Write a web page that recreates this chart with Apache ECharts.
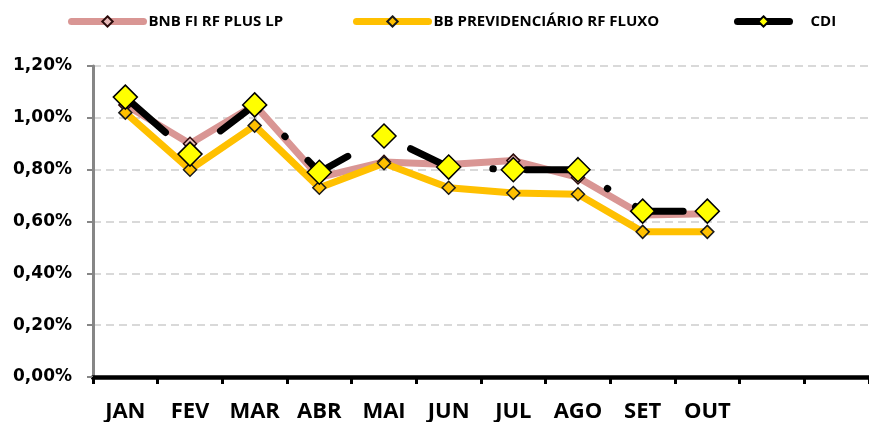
<!DOCTYPE html>
<html>
<head>
<meta charset="utf-8">
<script src="https://cdn.jsdelivr.net/npm/echarts@6/dist/echarts.min.js"></script>
<style>
html,body{margin:0;padding:0;background:#fff;}
#chart{width:869px;height:422px;}
</style>
</head>
<body>
<div id="chart"></div>
<script>
var categories = ['JAN','FEV','MAR','ABR','MAI','JUN','JUL','AGO','SET','OUT','',''];
var bnbValues = [1.05, 0.90, 1.05, 0.77, 0.83, 0.82, 0.835, 0.77, 0.625, 0.63];
var bbValues  = [1.02, 0.80, 0.97, 0.73, 0.825, 0.73, 0.71, 0.705, 0.56, 0.56];
var cdiValues = [1.08, 0.86, 1.05, 0.79, 0.93, 0.81, 0.80, 0.80, 0.64, 0.64];
var seriesNames = ['BNB FI RF PLUS LP', 'BB PREVIDENCIÁRIO RF FLUXO', 'CDI'];
var yTicks = [0, 0.2, 0.4, 0.6, 0.8, 1.0, 1.2];

var chart = echarts.init(document.getElementById('chart'), null, {renderer: 'canvas'});

var legendText = {fontFamily: 'Open Sans', fontWeight: 'bold', fontSize: 15, color: '#000'};

function legendFor(name, left, width, pad) {
  return {
    data: [name],
    left: left,
    top: 14,
    padding: 0,
    itemWidth: width,
    itemHeight: 13,
    selectedMode: false,
    lineStyle: {width: 7, type: 'solid', cap: 'round'},
    textStyle: Object.assign({padding: [0, 0, 0, pad]}, legendText)
  };
}

var option = {
  backgroundColor: '#fff',
  animation: false,
  legend: [
    legendFor(seriesNames[0], 68, 72, 0),
    legendFor(seriesNames[1], 353, 72, 0),
    legendFor(seriesNames[2], 734, 52, 16)
  ],
  grid: {left: 93, right: 0, top: 66, bottom: 45, containLabel: false, outerBoundsMode: 'none'},
  xAxis: {
    type: 'category',
    data: categories,
    boundaryGap: true,
    axisLine: {show: true, lineStyle: {color: '#000', width: 4.5}},
    axisTick: {show: true, alignWithLabel: false, interval: 0, length: 7, lineStyle: {color: '#000', width: 3}},
    axisLabel: {interval: 0, margin: 24, fontFamily: 'Open Sans', fontWeight: 'bold', fontSize: 22, color: '#000'},
    splitLine: {show: false}
  },
  yAxis: {
    type: 'value',
    min: yTicks[0],
    max: yTicks[yTicks.length - 1],
    interval: 0.2,
    axisLine: {show: true, lineStyle: {color: '#868686', width: 3}},
    axisTick: {show: true, length: 6, lineStyle: {color: '#868686', width: 2}},
    axisLabel: {
      margin: 21,
      fontFamily: 'DejaVu Sans', fontWeight: 'bold', fontSize: 17, color: '#000',
      formatter: function (v) { return v.toFixed(2).replace('.', ',') + '%'; }
    },
    splitLine: {show: true, lineStyle: {color: '#d9d9d9', width: 2, type: [8, 5]}}
  },
  series: [
    {
      name: seriesNames[0], type: 'line', data: bnbValues,
      symbol: 'diamond', symbolSize: 13,
      lineStyle: {color: '#D99694', width: 7},
      itemStyle: {color: '#E6B9B8', borderColor: '#2b0a0a', borderWidth: 1.5},
      z: 2
    },
    {
      name: seriesNames[1], type: 'line', data: bbValues,
      symbol: 'diamond', symbolSize: 13,
      lineStyle: {color: '#FFC000', width: 7},
      itemStyle: {color: '#FFC000', borderColor: '#1a1a1a', borderWidth: 1.5},
      z: 3
    },
    {
      name: seriesNames[2], type: 'line', data: cdiValues,
      symbol: 'diamond', symbolSize: 24,
      lineStyle: {color: '#000', width: 7, type: [49, 37.5, 0.5, 33], dashOffset: 115.5, cap: 'round'},
      itemStyle: {color: '#FFFF00', borderColor: '#000', borderWidth: 1.5},
      z: 4
    }
  ]
};
chart.setOption(option);
</script>
</body>
</html>
